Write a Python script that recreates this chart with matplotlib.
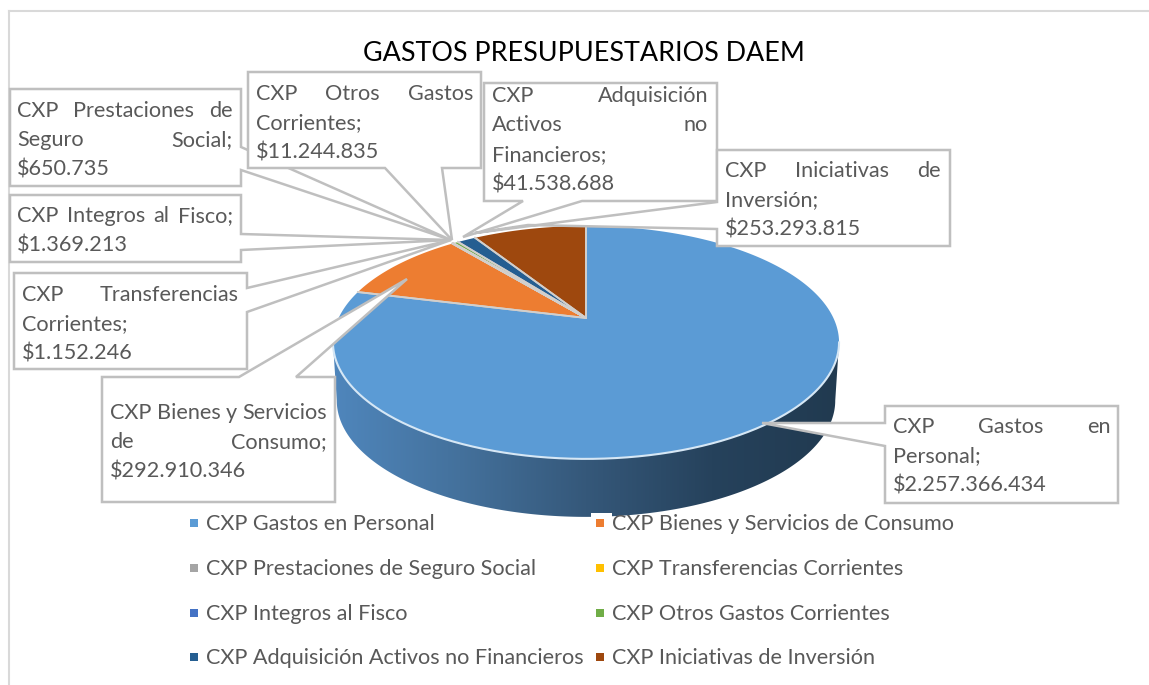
#!/usr/bin/env python3
"""Exploded-looking 3D pie of DAEM budget expenses, with Excel style callouts."""

import matplotlib
matplotlib.use("Agg")
import matplotlib.pyplot as plt
import numpy as np
from matplotlib.colors import LinearSegmentedColormap
from matplotlib.patches import PathPatch, Polygon, Rectangle
from matplotlib.path import Path

TITLE = "GASTOS PRESUPUESTARIOS DAEM"
CATEGORIES = [
    "CXP Gastos en Personal",
    "CXP Bienes y Servicios de Consumo",
    "CXP Prestaciones de Seguro Social",
    "CXP Transferencias Corrientes",
    "CXP Integros al Fisco",
    "CXP Otros Gastos Corrientes",
    "CXP Adquisición Activos no Financieros",
    "CXP Iniciativas de Inversión",
]
VALUES = [2257366434, 292910346, 650735, 1152246, 1369213, 11244835, 41538688, 253293815]
COLORS = ["#5B9BD5", "#ED7D31", "#A5A5A5", "#FFC000", "#4472C4", "#70AD47", "#255E91", "#9E480E"]
# how each label wraps inside its box, the value line is added below
LABEL_LINES = [
    ["CXP Gastos en", "Personal;"],
    ["CXP Bienes y Servicios", "de Consumo;"],
    ["CXP Prestaciones de", "Seguro Social;"],
    ["CXP Transferencias", "Corrientes;"],
    ["CXP Integros al Fisco;"],
    ["CXP Otros Gastos", "Corrientes;"],
    ["CXP Adquisición", "Activos no", "Financieros;"],
    ["CXP Iniciativas de", "Inversión;"],
]

# layout, everything in picture pixels
W, H = 1149, 685
APEX = (586, 318)
KP = 0.21
AX, AY = 247.4, 111.3
DEPTH = 58
TEXT_COLOR = "#595959"
LINE_COLOR = "#BFBFBF"
FONT = "Lato"
LABEL_SIZE = 15.6

# x0, y0, x1, y1 of the box, text x0, text x1, first baseline
BOXES = [
    (885, 406, 1118, 503, 893, 1111, 433),
    (102, 377, 335, 502, 110, 327, 419),
    (10, 89, 241, 186, 17, 233, 117),
    (14, 273, 247, 369, 22, 239, 301),
    (10, 195, 241, 262, 17, 233, 222),
    (248, 72, 481, 168, 256, 473, 100),
    (484, 83, 717, 201, 492, 708, 102),
    (717, 150, 950, 246, 725, 941, 177),
]
# side of the box the pointer leaves from and its points, clockwise
POINTERS = [
    ("left", [(885, 446), (762, 423), (885, 423)]),
    ("top", [(239, 377), (407, 279), (296, 377)]),
    ("right", [(241, 147), (451, 240), (241, 170)]),
    ("right", [(247, 288), (451, 240), (247, 312)]),
    ("right", [(241, 234), (451, 240), (241, 250)]),
    ("bottom", [(442, 168), (452, 240), (385, 168)]),
    ("bottom", [(582, 201), (463, 237), (523, 201)]),
    ("left", [(717, 229), (528, 225), (475, 233), (717, 202)]),
]
LEGEND_ROWS = [530, 575, 620, 664]
LEGEND_COLS = [206, 612]

WALL_CMAP = LinearSegmentedColormap.from_list(
    "wall", ["#4F86BC", "#44719C", "#35587A", "#26425C", "#213A50"]
)


def project(theta, scale=1.0, dy=0.0):
    # circle to picture, the apex sits above the ellipse centre like a real 3D pie
    x = np.sin(theta)
    y = np.cos(theta)
    w = 1 + KP * y
    return APEX[0] + scale * AX * x / w, APEX[1] - AY * y / w + dy


def draw_wall(ax):
    theta = np.linspace(np.arccos(-KP), 2 * np.pi - np.arccos(-KP), 300)
    x0, y0 = project(theta)
    x1, y1 = project(theta, scale=0.985, dy=DEPTH)
    verts = np.column_stack([np.r_[x0, x1[::-1]], np.r_[y0, y1[::-1]]])
    clip = Polygon(verts, closed=True, transform=ax.transData, facecolor="none", edgecolor="none")
    ax.add_patch(clip)
    grad = np.linspace(0, 1, 256).reshape(1, -1)
    im = ax.imshow(grad, cmap=WALL_CMAP, extent=(333, 839, 530, 300), aspect="auto", zorder=1)
    im.set_clip_path(clip)
    ax.set_xlim(0, W)
    ax.set_ylim(H, 0)


def draw_top(ax):
    total = sum(VALUES)
    start = 0.0
    for value, color in zip(VALUES, COLORS):
        sweep = 2 * np.pi * value / total
        theta = np.linspace(start, start + sweep, max(int(sweep * 80), 3))
        x, y = project(theta)
        verts = np.column_stack([np.r_[APEX[0], x], np.r_[APEX[1], y]])
        ax.add_patch(Polygon(verts, closed=True, facecolor=color, edgecolor="none", zorder=2))
        # only the radial sides get the grey seam, the outer arc stays clean
        ax.plot([x[0], APEX[0], x[-1]], [y[0], APEX[1], y[-1]], color="#D2CFCC",
                linewidth=1.3, zorder=2.5)
        start += sweep
    # light edge where the top meets the wall
    theta = np.linspace(np.arccos(-KP), 2 * np.pi - np.arccos(-KP), 300)
    x, y = project(theta)
    ax.plot(x, y, color="#D6E7F5", linewidth=1.5, zorder=3)


def callout_path(box, side, points):
    x0, y0, x1, y1 = box
    if side == "top":
        verts = [(x0, y0)] + points + [(x1, y0), (x1, y1), (x0, y1)]
    elif side == "right":
        verts = [(x0, y0), (x1, y0)] + points + [(x1, y1), (x0, y1)]
    elif side == "bottom":
        verts = [(x0, y0), (x1, y0), (x1, y1)] + points + [(x0, y1)]
    else:
        verts = [(x0, y0), (x1, y0), (x1, y1), (x0, y1)] + points
    verts.append(verts[0])
    codes = [Path.MOVETO] + [Path.LINETO] * (len(verts) - 2) + [Path.CLOSEPOLY]
    return Path(verts, codes)


def word_width(ax, renderer, word):
    t = ax.text(0, 0, word, fontsize=LABEL_SIZE, family=FONT)
    width = t.get_window_extent(renderer).width
    t.remove()
    return width


def draw_justified(ax, renderer, lines, x0, x1, baseline, zorder):
    for i, line in enumerate(lines):
        y = baseline + i * 29.4
        words = line.split()
        if i == len(lines) - 1 or len(words) == 1:
            ax.text(x0, y, line, fontsize=LABEL_SIZE, family=FONT, color=TEXT_COLOR,
                    va="baseline", zorder=zorder)
            continue
        widths = [word_width(ax, renderer, w) for w in words]
        gap = (x1 - x0 - sum(widths)) / (len(words) - 1)
        x = x0
        for word, width in zip(words, widths):
            ax.text(x, y, word, fontsize=LABEL_SIZE, family=FONT, color=TEXT_COLOR,
                    va="baseline", zorder=zorder)
            x += width + gap


def main():
    fig = plt.figure(figsize=(W / 100, H / 100), dpi=100)
    ax = fig.add_axes([0, 0, 1, 1])
    ax.set_xlim(0, W)
    ax.set_ylim(H, 0)
    ax.axis("off")

    # chart frame, only top and left are in the crop
    ax.plot([9, W], [11, 11], color="#D9D9D9", linewidth=1.5, zorder=0)
    ax.plot([9, 9], [11, H], color="#D9D9D9", linewidth=1.5, zorder=0)

    ax.text(584, 53, TITLE, fontsize=19.4, family=FONT, color="black",
            ha="center", va="center")

    draw_wall(ax)
    draw_top(ax)

    fig.canvas.draw()
    renderer = fig.canvas.get_renderer()
    for i, (lines, value) in enumerate(zip(LABEL_LINES, VALUES)):
        bx0, by0, bx1, by1, tx0, tx1, base = BOXES[i]
        side, points = POINTERS[i]
        z = 5 + i * 0.1
        ax.add_patch(PathPatch(callout_path((bx0, by0, bx1, by1), side, points),
                               facecolor="white", edgecolor=LINE_COLOR, linewidth=1.8,
                               joinstyle="miter", zorder=z))
        text_lines = lines + ["$" + f"{value:,}".replace(",", ".")]
        draw_justified(ax, renderer, text_lines, tx0, tx1, base, z + 0.01)

    # legend is two columns filled row by row
    for i, (name, color) in enumerate(zip(CATEGORIES, COLORS)):
        col = i % 2
        row = i // 2
        tx = LEGEND_COLS[col]
        y = LEGEND_ROWS[row]
        ax.add_patch(Rectangle((tx - 21, y - 17), 21, 18, facecolor="white",
                               edgecolor="none", zorder=6))
        ax.add_patch(Rectangle((tx - 16, y - 11), 8, 8, facecolor=color,
                               edgecolor="none", zorder=7))
        ax.text(tx, y, name, fontsize=LABEL_SIZE, family=FONT, color=TEXT_COLOR,
                va="baseline", zorder=7)

    fig.savefig("out.png", dpi=100)
    plt.close(fig)


if __name__ == "__main__":
    main()
